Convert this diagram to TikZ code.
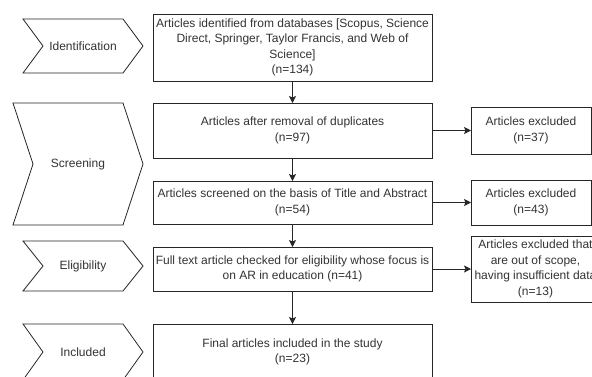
\documentclass[tikz,border=0pt]{standalone}
\usepackage{fontspec}
\setmainfont{Liberation Sans}
\usetikzlibrary{arrows.meta}
\begin{document}
\begin{tikzpicture}[x=1pt,y=-1pt]
\tikzset{
  box/.style={draw=black!85, line width=0.8pt, inner sep=0pt, outer sep=0pt, align=center,
    text=black!80, font=\fontsize{12}{15.5}\selectfont},
  arr/.style={draw=black!85, line width=0.8pt, -{Stealth[length=7pt,width=7pt,inset=1.5pt]}},
  chev/.style={draw=black!85, line width=0.8pt, line join=miter},
  lbl/.style={font=\fontsize{12}{15.5}\selectfont, text=black!80, inner sep=0pt}
}
\useasboundingbox (0,0) rectangle (592,376);
\clip (0,0) rectangle (592,376);
\fill[white] (0,0) rectangle (592,376);

% stage chevrons
\draw[chev] (23,19) -- (123,19) -- (143,46) -- (123,73) -- (23,73) -- (43,46) -- cycle;
\node[lbl] (c1) at (83,46) {Identification};
\draw[chev] (13,103) -- (123,103) -- (143,164) -- (123,225) -- (13,225) -- (33,164) -- cycle;
\node[lbl] (c2) at (78,164) {Screening};
\draw[chev] (23,241) -- (123,241) -- (143,266) -- (123,291) -- (23,291) -- (43,266) -- cycle;
\node[lbl] (c3) at (83,266) {Eligibility};
\draw[chev] (23,324) -- (123,324) -- (143,352) -- (123,380) -- (23,380) -- (43,352) -- cycle;
\node[lbl] (c4) at (83,352) {Included};

% main boxes
\node[box, minimum width=279pt, minimum height=67pt] (b1) at (292.5,47.5)
  {Articles identified from databases [Scopus, Science\\Direct, Springer, Taylor Francis, and Web of\\Science]\\(n=134)};
\node[box, minimum width=279pt, minimum height=55pt] (b2) at (292.5,130.5)
  {Articles after removal of duplicates\\(n=97)};
\node[box, minimum width=279pt, minimum height=43pt] (b3) at (292.5,202.5)
  {Articles screened on the basis of Title and Abstract\\(n=54)};
\node[box, minimum width=279pt, minimum height=44pt] (b4) at (292.5,269)
  {Full text article checked for eligibility whose focus is\\on AR in education (n=41)};
\node[box, minimum width=279pt, minimum height=56pt] (b5) at (292.5,352)
  {Final articles included in the study\\(n=23)};

% excluded boxes
\node[box, minimum width=120pt, minimum height=47pt] (e1) at (531,130.5)
  {Articles excluded\\(n=37)};
\node[box, minimum width=120pt, minimum height=45pt] (e2) at (531,202.5)
  {Articles excluded\\(n=43)};
\node[box, minimum width=129pt, minimum height=66pt] (e3) at (535.5,269)
  {Articles excluded that\\are out of scope,\\having insufficient data\\(n=13)};

% connectors
\draw[arr] (b1.south) -- (b2.north);
\draw[arr] (b2.south) -- (b3.north);
\draw[arr] (b3.south) -- (b4.north);
\draw[arr] (b4.south) -- (b5.north);
\draw[arr] (b2.east) -- (e1.west);
\draw[arr] (b3.east) -- (e2.west);
\draw[arr] (b4.east) -- (e3.west);
\end{tikzpicture}
\end{document}
